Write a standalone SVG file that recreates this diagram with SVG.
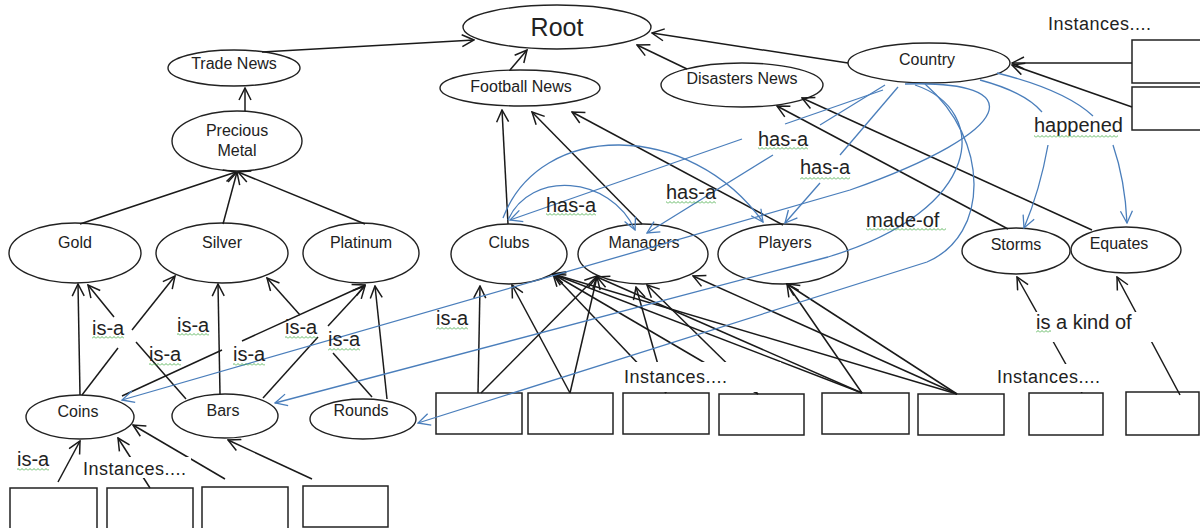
<svg xmlns="http://www.w3.org/2000/svg" width="1200" height="528" viewBox="0 0 1200 528">
<style>
.n ellipse{fill:none;stroke:#222;stroke-width:1.4}
.bx rect{fill:none;stroke:#222;stroke-width:1.5}
text{font-family:"Liberation Sans",Arial,sans-serif;fill:#222}
.nt{font-size:16px;text-anchor:middle}
.lb{font-size:20px}
.in{font-size:18px;letter-spacing:0.5px}
.k{fill:none;stroke:#1a1a1a;stroke-width:1.5}
.b{fill:none;stroke:#4a7ebb;stroke-width:1.3}
.ka{marker-end:url(#ab)}
.ba{marker-end:url(#abl)}
.sq{fill:url(#sq)}
.bg{fill:#fff}
</style>
<defs>
<marker id="ab" viewBox="0 0 14 14" refX="13" refY="7" markerWidth="14" markerHeight="14" orient="auto" markerUnits="userSpaceOnUse"><path d="M1,1 L13,7 L1,13" fill="none" stroke="#1a1a1a" stroke-width="1.5"/></marker>
<marker id="abl" viewBox="0 0 14 14" refX="13" refY="7" markerWidth="14" markerHeight="14" orient="auto" markerUnits="userSpaceOnUse"><path d="M1,1 L13,7 L1,13" fill="none" stroke="#4a7ebb" stroke-width="1.3"/></marker>
<pattern id="sq" width="4" height="3" patternUnits="userSpaceOnUse"><path d="M0,2.5 L2,0.5 L4,2.5" fill="none" stroke="#3aa63a" stroke-width="0.8"/></pattern>
</defs>
<rect width="1200" height="528" fill="#fff"/>

<g id="root" class="n"><ellipse cx="557" cy="27" rx="94" ry="22"/><text x="557" y="36" style="font-size:25px;text-anchor:middle">Root</text></g>
<g id="trade-news" class="n"><ellipse cx="234" cy="68" rx="66" ry="18"/><text class="nt" x="234" y="69">Trade News</text></g>
<g id="precious-metal" class="n"><ellipse cx="237" cy="141" rx="65" ry="30"/><text class="nt" x="237" y="136">Precious</text><text class="nt" x="237" y="156">Metal</text></g>
<g id="gold" class="n"><ellipse cx="75" cy="253" rx="66" ry="30"/><text class="nt" x="75" y="248">Gold</text></g>
<g id="silver" class="n"><ellipse cx="222" cy="253" rx="66" ry="30"/><text class="nt" x="222" y="248">Silver</text></g>
<g id="platinum" class="n"><ellipse cx="361" cy="253" rx="58" ry="30"/><text class="nt" x="361" y="248">Platinum</text></g>
<g id="football-news" class="n"><ellipse cx="520" cy="88" rx="80" ry="18"/><text class="nt" x="521" y="92">Football News</text></g>
<g id="disasters-news" class="n"><ellipse cx="742" cy="85" rx="81" ry="22"/><text class="nt" x="742" y="84">Disasters News</text></g>
<g id="country" class="n"><ellipse cx="929" cy="63" rx="81" ry="20"/><text class="nt" x="927" y="65">Country</text></g>
<g id="clubs" class="n"><ellipse cx="509" cy="254" rx="58" ry="30"/><text class="nt" x="509" y="248">Clubs</text></g>
<g id="managers" class="n"><ellipse cx="643" cy="254" rx="65" ry="30"/><text class="nt" x="644" y="248">Managers</text></g>
<g id="players" class="n"><ellipse cx="783" cy="254" rx="65" ry="30"/><text class="nt" x="785" y="248">Players</text></g>
<g id="storms" class="n"><ellipse cx="1016" cy="251" rx="54" ry="23"/><text class="nt" x="1016" y="250">Storms</text></g>
<g id="equates" class="n"><ellipse cx="1126" cy="250" rx="55" ry="23"/><text class="nt" x="1119" y="249">Equates</text></g>
<g id="coins" class="n"><ellipse cx="80" cy="417" rx="54" ry="22"/><text class="nt" x="78" y="417">Coins</text></g>
<g id="bars" class="n"><ellipse cx="225" cy="416" rx="53" ry="22"/><text class="nt" x="223" y="416">Bars</text></g>
<g id="rounds" class="n"><ellipse cx="363" cy="419" rx="53" ry="20"/><text class="nt" x="361" y="416">Rounds</text></g>

<g id="country-instances" class="bx"><rect x="1132" y="40" width="72" height="43"/><rect x="1132" y="87" width="72" height="43"/></g>
<g id="coin-instances" class="bx"><rect x="10" y="488" width="87" height="45"/><rect x="107" y="488" width="86" height="45"/><rect x="202" y="487" width="86" height="46"/><rect x="303" y="486" width="85" height="41"/></g>
<g id="football-instances" class="bx"><rect x="436" y="393" width="86" height="41"/><rect x="528" y="393" width="85" height="41"/><rect x="623" y="393" width="86" height="41"/><rect x="719" y="394" width="85" height="41"/><rect x="822" y="393" width="87" height="41"/><rect x="918" y="394" width="86" height="41"/></g>
<g id="disaster-instances" class="bx"><rect x="1029" y="393" width="74" height="42"/><rect x="1126" y="392" width="73" height="43"/></g>

<g id="connectors">
<path class="k ka" d="M262,52 L474,40"/>
<path class="k ka" d="M245,111 L245,88"/>
<path class="k ka" d="M80,224 L236,172"/>
<path class="k ka" d="M223,224 L237,172"/>
<path class="k ka" d="M365,224 L238,172"/>
<path class="k ka" d="M510,70 L527,50"/>
<path class="k ka" d="M687,69 L637,45"/>
<path class="k ka" d="M848,63 L652,33"/>
<path class="k ka" d="M508,224 L502,110"/>
<path class="k ka" d="M642,224 L532,112"/>
<path class="k ka" d="M783,225 L572,112"/>
<path class="k ka" d="M1008,229 L777,106"/>
<path class="k ka" d="M1092,230 L802,98"/>
<path class="k ka" d="M1132,63 L1012,63"/>
<path class="k ka" d="M1132,107 L1012,65"/>

<path class="k ka" d="M80,395 L78,284"/>
<path class="k" d="M82,395 L118,348"/><path class="k ka" d="M132,330 L175,276"/>
<path class="k" d="M186,399 L136,342"/><path class="k ka" d="M114,317 L88,285"/>
<path class="k ka" d="M220,394 L218,284"/>
<path class="k" d="M263,398 L318,337"/><path class="k ka" d="M328,326 L365,286"/>
<path class="k" d="M122,396 L222,350"/><path class="k ka" d="M242,341 L365,285"/>
<path class="k" d="M372,397 L333,353"/><path class="k ka" d="M300,315 L267,278"/>
<path class="k ka" d="M387,399 L375,286"/>

<path class="k ka" d="M58,482 L80,441"/>
<path class="k ka" d="M150,488 L118,438"/>
<path class="k ka" d="M225,479 L133,425"/>
<path class="k ka" d="M312,479 L228,440"/>

<path class="k ka" d="M478,393 L480,286"/>
<path class="k ka" d="M481,393 L597,276"/>
<path class="k ka" d="M570,393 L512,285"/>
<path class="k ka" d="M570,393 L597,277"/>
<path class="k ka" d="M666,393 L553,274"/>
<path class="k ka" d="M666,393 L636,287"/>
<path class="k ka" d="M758,394 L553,274"/>
<path class="k ka" d="M758,394 L647,285"/>
<path class="k ka" d="M862,393 L553,274"/>
<path class="k ka" d="M957,394 L553,274"/>
<path class="k ka" d="M862,393 L597,277"/>
<path class="k ka" d="M957,394 L693,276"/>
<path class="k ka" d="M862,393 L787,284"/>
<path class="k ka" d="M957,394 L787,284"/>

<path class="k ka" d="M1082,393 L1017,277"/>
<path class="k ka" d="M1180,395 L1117,277"/>

<path class="b" d="M883,90 L785,124"/><path class="b ba" d="M742,139 L510,220"/>
<path class="b" d="M885,85 L820,125"/><path class="b ba" d="M773,155 L647,233"/>
<path class="b" d="M898,87 L840,155"/><path class="b ba" d="M820,183 L785,223"/>
<path class="b ba" d="M508,220 C530,170 610,175 635,230"/>
<path class="b ba" d="M503,218 C540,120 690,120 763,222"/>
<path class="b ba" d="M905,84 C1030,80 1020,130 850,190 L122,400"/>
<path class="b ba" d="M915,85 C990,110 985,210 828,257 L275,403"/>
<path class="b ba" d="M925,84 C990,140 990,235 927,262 L418,423"/>
<path class="b" d="M980,80 Q1025,92 1042,112"/><path class="b ba" d="M1048,145 Q1040,190 1024,228"/>
<path class="b" d="M997,73 Q1065,90 1093,116"/><path class="b ba" d="M1113,145 Q1125,180 1127,223"/>
</g>

<g id="labels">
<rect class="bg" x="618" y="362" width="163" height="30"/>
<text class="in" x="624" y="383">Instances....</text>
<rect class="bg" x="992" y="364" width="108" height="28"/>
<text class="in" x="997" y="383">Instances....</text>
<rect class="bg" x="80" y="457" width="111" height="21"/>
<text class="in" x="83" y="475">Instances....</text>
<text class="in" x="1048" y="30">Instances....</text>
<rect class="bg" x="1030" y="312" width="125" height="30"/>
<text class="lb" x="1036" y="329">is a kind of</text><rect class="sq" x="1036" y="330" width="15" height="3"/>

<text class="lb" x="758" y="146">has-a</text><rect class="sq" x="758" y="147" width="50" height="3"/>
<text class="lb" x="800" y="174">has-a</text><rect class="sq" x="800" y="177" width="50" height="3"/>
<text class="lb" x="666" y="199">has-a</text><rect class="sq" x="666" y="201" width="50" height="3"/>
<text class="lb" x="546" y="212">has-a</text><rect class="sq" x="546" y="213" width="50" height="3"/>
<text class="lb" x="866" y="227">made-of</text><rect class="sq" x="866" y="228" width="80" height="3"/>
<text class="lb" x="1034" y="132">happened</text><rect class="sq" x="1034" y="135" width="84" height="3"/>

<text class="lb" x="92" y="335">is-a</text><rect class="sq" x="92" y="336" width="32" height="3"/>
<text class="lb" x="177" y="332">is-a</text><rect class="sq" x="177" y="333" width="32" height="3"/>
<text class="lb" x="149" y="361">is-a</text><rect class="sq" x="149" y="363" width="32" height="3"/>
<text class="lb" x="233" y="361">is-a</text><rect class="sq" x="233" y="363" width="32" height="3"/>
<text class="lb" x="285" y="334">is-a</text><rect class="sq" x="285" y="336" width="32" height="3"/>
<text class="lb" x="328" y="346">is-a</text><rect class="sq" x="328" y="348" width="32" height="3"/>
<text class="lb" x="17" y="466">is-a</text><rect class="sq" x="17" y="468" width="32" height="3"/>
<text class="lb" x="436" y="325">is-a</text><rect class="sq" x="436" y="327" width="32" height="3"/>
</g>
</svg>
